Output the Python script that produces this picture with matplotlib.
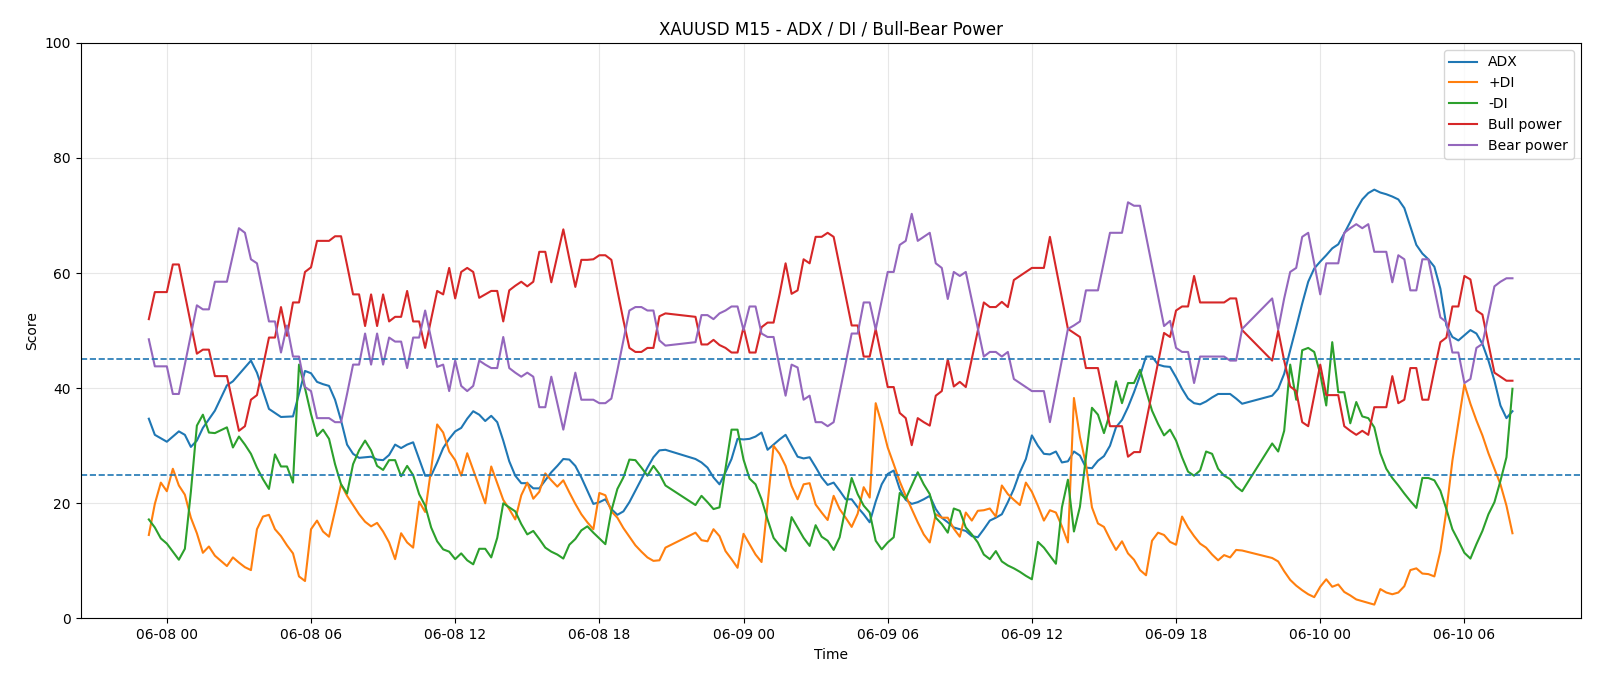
import numpy as np
import pandas as pd
import matplotlib
matplotlib.use("Agg")
import matplotlib.pyplot as plt
import matplotlib.dates as mdates

# hours after 2022-06-08 00:00, M15 bars (daily break 21:00-22:00 missing)
adx_h = [-0.75, -0.5, 0, 0.5, 0.75, 1.0, 1.25, 1.5, 2.0, 2.5, 2.75, 3.5, 3.75, 4.25, 4.75, 5.25, 5.75,
         6.0, 6.25, 6.5, 6.75, 7.0, 7.25, 7.5, 7.75, 8.0, 8.25, 8.5, 8.75, 9.0, 9.25, 9.5, 9.75, 10.0,
         10.25, 10.5, 10.75, 11.0, 11.25, 11.5, 11.75, 12.0, 12.25, 12.5, 12.75, 13.0, 13.25, 13.5, 13.75,
         14.0, 14.25, 14.5, 14.75, 15.0, 15.25, 15.5, 15.75, 16.0, 16.25, 16.5, 16.75, 17.0, 17.25, 17.5,
         17.75, 18.0, 18.25, 18.5, 18.75, 19.0, 19.25, 19.5, 19.75, 20.0, 20.25, 20.5, 20.75,
         22.0, 22.25, 22.5, 22.75, 23.0, 23.25, 23.5, 23.75, 24.0, 24.25, 24.5, 24.75, 25.0, 25.25, 25.5,
         25.75, 26.0, 26.25, 26.5, 26.75, 27.0, 27.25, 27.5, 27.75, 28.0, 28.25, 28.5, 28.75, 29.0, 29.25,
         29.5, 29.75, 30.0, 30.25, 30.5, 30.75, 31.0, 31.25, 31.5, 31.75, 32.0, 32.25, 32.5, 32.75, 33.0,
         33.25, 33.5, 33.75, 34.0, 34.25, 34.5, 34.75, 35.0, 35.25, 35.5, 35.75, 36.0, 36.25, 36.5, 36.75,
         37.0, 37.25, 37.5, 37.75, 38.0, 38.25, 38.5, 38.75, 39.0, 39.25, 39.5, 39.75, 40.0, 40.25, 40.5,
         40.75, 41.0, 41.25, 41.5, 41.75, 42.0, 42.25, 42.5, 42.75, 43.0, 43.25, 43.5, 43.75, 44.0, 44.25,
         44.5, 44.75, 46.0, 46.25, 46.5, 46.75, 47.0, 47.25, 47.5, 47.75, 48.0, 48.25, 48.5, 48.75, 49.0,
         49.25, 49.5, 49.75, 50.0, 50.25, 50.5, 50.75, 51.0, 51.25, 51.5, 51.75, 52.0, 52.25, 52.5, 52.75,
         53.0, 53.25, 53.5, 53.75, 54.0, 54.25, 54.5, 54.75, 55.0, 55.25, 55.5, 55.75, 56.0]
adx_v = [34.7, 31.9, 30.7, 32.5, 31.9, 29.8, 30.9, 33.1, 36.1, 40.5, 41.2, 44.8, 42.7, 36.4, 35.0, 35.1, 43.0,
         42.6, 41.1, 40.7, 40.4, 38.0, 34.4, 30.2, 28.6, 27.9, 28.0, 28.1, 27.6, 27.5, 28.4, 30.2, 29.6, 30.2,
         30.6, 27.7, 24.8, 24.8, 27.1, 29.6, 31.2, 32.5, 33.1, 34.7, 36.0, 35.4, 34.3, 35.2, 34.1,
         30.9, 27.3, 24.8, 23.5, 23.5, 22.6, 22.6, 24.0, 25.4, 26.5, 27.7, 27.6, 26.5, 24.5, 22.2,
         19.9, 20.2, 20.7, 19.0, 18.0, 18.6, 20.2, 22.2, 24.2, 26.2, 28.0, 29.2, 29.3,
         27.7, 27.1, 26.2, 24.5, 23.3, 25.4, 27.7, 31.2, 31.1, 31.2, 31.6, 32.3, 29.3, 30.2, 31.1,
         31.9, 30.0, 28.1, 27.8, 28.0, 26.3, 24.5, 23.2, 23.6, 22.2, 20.7, 20.7, 19.3, 18.1, 16.7,
         20.3, 23.3, 25.1, 25.7, 22.5, 20.6, 19.9, 20.2, 20.7, 21.3, 19.0, 17.5, 16.7, 15.8, 15.5,
         15.2, 14.3, 14.1, 15.5, 17.0, 17.5, 18.1, 20.2, 22.5, 25.4, 27.7, 31.8, 30.0, 28.6, 28.5,
         29.0, 27.1, 27.3, 29.0, 28.3, 26.2, 26.1, 27.4, 28.2, 30.0, 33.2, 34.5, 36.7, 39.3, 42.2,
         45.5, 45.5, 44.1, 43.8, 43.7, 41.9, 39.9, 38.2, 37.4, 37.2, 37.7, 38.4, 39.0, 39.0, 39.0,
         38.2, 37.3, 38.7, 39.9, 42.5, 46.6, 50.6, 54.7, 58.5, 60.8, 62.0, 63.1, 64.3, 65.0, 66.9,
         68.9, 71.0, 72.8, 73.9, 74.5, 74.0, 73.7, 73.3, 72.8, 71.3, 68.1, 64.9, 63.4, 62.4, 61.1,
         57.3, 50.9, 48.9, 48.3, 49.2, 50.1, 49.5, 47.7, 44.8, 41.3, 37.0, 34.8, 36.0]

pdi_h = [-0.75, -0.5, -0.25, 0, 0.25, 0.5, 0.75, 1.0, 1.25, 1.5, 1.75, 2.0, 2.25, 2.5, 2.75, 3.0, 3.25, 3.5,
         3.75, 4.0, 4.25, 4.5, 4.75, 5.0, 5.25, 5.5, 5.75, 6.0, 6.25, 6.5, 6.75, 7.0, 7.25, 7.5, 7.75, 8.0,
         8.25, 8.5, 8.75, 9.0, 9.25, 9.5, 9.75, 10.0, 10.25, 10.5, 10.75, 11.0, 11.25, 11.5, 11.75, 12.0,
         12.25, 12.5, 12.75, 13.0, 13.25, 13.5, 13.75, 14.0, 14.25, 14.5, 14.75, 15.0, 15.25, 15.5, 15.75,
         16.0, 16.25, 16.5, 16.75, 17.0, 17.25, 17.5, 17.75, 18.0, 18.25, 18.5, 18.75, 19.0, 19.25, 19.5,
         19.75, 20.0, 20.25, 20.5, 20.75, 22.0, 22.25, 22.5, 22.75, 23.0, 23.25, 23.5, 23.75, 24.0, 24.25,
         24.5, 24.75, 25.0, 25.25, 25.5, 25.75, 26.0, 26.25, 26.5, 26.75, 27.0, 27.25, 27.5, 27.75, 28.0,
         28.25, 28.5, 28.75, 29.0, 29.25, 29.5, 29.75, 30.0, 30.25, 30.5, 30.75, 31.0, 31.25, 31.5, 31.75,
         32.0, 32.25, 32.5, 32.75, 33.0, 33.25, 33.5, 33.75, 34.0, 34.25, 34.5, 34.75, 35.0, 35.25, 35.5,
         35.75, 36.0, 36.25, 36.5, 36.75, 37.0, 37.25, 37.5, 37.75, 38.0, 38.25, 38.5, 38.75, 39.0, 39.25,
         39.5, 39.75, 40.0, 40.25, 40.5, 40.75, 41.0, 41.25, 41.5, 41.75, 42.0, 42.25, 42.5, 42.75, 43.0,
         43.25, 43.5, 43.75, 44.0, 44.25, 44.5, 44.75, 46.0, 46.25, 46.5, 46.75, 47.0, 47.25, 47.5, 47.75,
         48.0, 48.25, 48.5, 48.75, 49.0, 49.25, 49.5, 49.75, 50.0, 50.25, 50.5, 50.75, 51.0, 51.25, 51.5,
         51.75, 52.0, 52.25, 52.5, 52.75, 53.0, 53.25, 53.5, 53.75, 54.0, 54.25, 54.5, 54.75, 55.0, 55.25,
         55.5, 55.75, 56.0]
pdi_v = [14.5, 19.9, 23.6, 22.1, 26.0, 23.1, 21.5, 17.5, 14.8, 11.4, 12.5, 10.9, 10.0, 9.1, 10.6, 9.7, 8.9, 8.4,
         15.5, 17.7, 18.0, 15.5, 14.3, 12.7, 11.3, 7.3, 6.5, 15.5, 17.0, 15.1, 14.2, 18.7, 23.3, 21.3, 19.7, 18.1,
         16.8, 16.0, 16.6, 15.1, 13.2, 10.3, 14.8, 13.2, 12.3, 20.3, 18.5, 26.0, 33.7, 32.3, 29.0, 27.5,
         24.8, 28.7, 25.8, 22.9, 20.0, 26.4, 23.5, 20.6, 19.0, 17.2, 21.4, 23.6, 20.8, 22.0, 25.2,
         24.0, 22.9, 24.0, 21.9, 19.9, 18.1, 16.7, 15.5, 21.8, 21.4, 18.6, 17.5, 15.7, 14.2, 12.7,
         11.6, 10.6, 10.0, 10.1, 12.3, 14.9, 13.6, 13.4, 15.5, 14.3, 11.7, 10.3, 8.8, 14.7, 12.9,
         11.1, 9.8, 19.9, 30.0, 28.6, 26.5, 23.0, 20.7, 23.3, 23.5, 19.8, 18.4, 17.1, 21.3, 19.0,
         17.5, 15.9, 18.2, 22.8, 21.0, 37.4, 33.8, 29.7, 26.8, 23.8, 21.3, 19.0, 16.7, 14.6, 13.2,
         18.1, 17.5, 17.5, 15.6, 14.2, 18.4, 17.0, 18.7, 18.8, 19.1, 17.7, 23.1, 21.6, 20.6, 19.7,
         23.6, 22.0, 19.6, 17.0, 18.8, 18.4, 16.0, 13.2, 38.3, 31.5, 26.8, 19.3, 16.5, 15.9, 13.8,
         11.9, 13.4, 11.3, 10.2, 8.4, 7.5, 13.5, 14.9, 14.5, 13.3, 12.8, 17.7, 15.8, 14.3, 13.0,
         12.3, 11.1, 10.1, 11.0, 10.6, 11.9, 11.8, 10.5, 9.9, 8.2, 6.7, 5.7, 4.9, 4.2, 3.7,
         5.5, 6.8, 5.5, 5.9, 4.6, 4.0, 3.3, 3.0, 2.7, 2.4, 5.1, 4.5, 4.2, 4.5, 5.6,
         8.4, 8.7, 7.8, 7.7, 7.3, 11.7, 18.7, 27.4, 34.1, 40.7, 37.3, 34.4, 31.8, 28.7, 26.0,
         23.3, 19.6, 14.8]

mdi_h = pdi_h
mdi_v = [17.2, 15.8, 13.9, 13.0, 11.6, 10.2, 12.1, 22.0, 33.5, 35.4, 32.3, 32.2, 32.7, 33.2, 29.7, 31.6, 30.2, 28.6,
         26.2, 24.2, 22.5, 28.5, 26.4, 26.4, 23.6, 44.1, 40.0, 35.5, 31.7, 32.8, 31.2, 26.8, 23.3, 21.7, 26.8, 29.2,
         30.9, 29.2, 26.5, 25.8, 27.5, 27.5, 24.7, 26.5, 24.9, 21.6, 19.6, 15.8, 13.4, 12.0, 11.6, 10.3,
         11.3, 10.1, 9.4, 12.1, 12.1, 10.6, 14.0, 20.0, 19.3, 18.6, 16.4, 14.6, 15.2, 13.8, 12.3,
         11.6, 11.1, 10.4, 12.8, 13.8, 15.3, 16.0, 14.9, 13.9, 12.9, 18.7, 22.5, 24.5, 27.6, 27.5,
         26.2, 24.8, 26.5, 25.1, 23.1, 19.7, 21.3, 20.2, 19.0, 19.3, 26.0, 32.8, 32.8, 27.6, 24.3,
         23.3, 20.7, 17.2, 14.0, 12.7, 11.7, 17.6, 15.8, 14.0, 12.6, 16.2, 14.2, 13.5, 11.9, 14.1,
         19.3, 24.4, 21.6, 19.6, 18.4, 13.5, 12.0, 13.2, 14.1, 21.8, 20.8, 23.1, 25.4, 23.3, 21.6,
         17.5, 16.4, 14.9, 19.1, 18.7, 15.8, 14.6, 13.2, 11.1, 10.3, 11.7, 9.9, 9.2, 8.7, 8.1,
         7.4, 6.8, 13.3, 12.3, 10.9, 9.5, 19.3, 24.1, 15.1, 19.4, 28.0, 36.6, 35.4, 32.2, 35.7,
         41.2, 37.4, 40.9, 40.9, 43.2, 39.6, 36.1, 33.8, 31.8, 32.8, 30.9, 28.0, 25.5, 24.8, 25.7,
         29.0, 28.6, 26.0, 24.8, 24.2, 22.9, 22.1, 30.4, 29.0, 32.6, 44.1, 38.0, 46.6, 47.0, 46.3,
         42.5, 37.0, 48.0, 39.3, 39.3, 33.9, 37.6, 35.1, 34.8, 33.2, 28.7, 26.0, 24.4, 23.1, 21.7,
         20.4, 19.2, 24.4, 24.4, 24.0, 22.2, 19.0, 15.5, 13.5, 11.4, 10.4, 12.9, 15.2, 18.1, 20.2,
         23.9, 28.0, 39.9]

bull_h = [-0.75, -0.5, 0, 0.25, 0.5, 1.25, 1.5, 1.75, 2.0, 2.5, 3.0, 3.25, 3.5, 3.75, 4.25, 4.5, 4.75, 5.0,
          5.25, 5.5, 5.75, 6.0, 6.25, 6.75, 7.0, 7.25, 7.5, 7.75, 8.0, 8.25, 8.5, 8.75, 9.0, 9.25, 9.5, 9.75,
          10.0, 10.25, 10.5, 10.75, 11.0, 11.25, 11.5, 11.75, 12.0, 12.25, 12.5, 12.75, 13.0, 13.25, 13.5,
          13.75, 14.0, 14.25, 14.5, 14.75, 15.0, 15.25, 15.5, 15.75, 16.0, 16.5, 16.75, 17.0, 17.25, 17.5,
          17.75, 18.0, 18.25, 18.5, 18.75, 19.0, 19.25, 19.5, 19.75, 20.0, 20.25, 20.5, 20.75, 22.0, 22.25,
          22.5, 22.75, 23.0, 23.25, 23.5, 23.75, 24.0, 24.25, 24.5, 24.75, 25.0, 25.25, 25.5, 25.75, 26.0,
          26.25, 26.5, 26.75, 27.0, 27.25, 27.5, 27.75, 28.5, 28.75, 29.0, 29.25, 29.5, 30.0, 30.25, 30.5,
          30.75, 31.0, 31.25, 31.5, 31.75, 32.0, 32.25, 32.5, 32.75, 33.0, 33.25, 34.0, 34.25, 34.5, 34.75,
          35.0, 35.25, 35.5, 35.75, 36.0, 36.5, 36.75, 37.5, 37.75, 38.0, 38.25, 38.75, 39.0, 39.25, 39.75,
          40.0, 40.25, 40.5, 41.5, 41.75, 42.0, 42.25, 42.5, 42.75, 43.0, 44.0, 44.25, 44.5, 44.75, 46.0,
          46.25, 46.5, 46.75, 47.0, 47.25, 47.5, 47.75, 48.0, 48.25, 48.75, 49.0, 49.25, 49.5, 49.75, 50.0,
          50.25, 50.75, 51.0, 51.25, 51.5, 51.75, 52.0, 52.25, 52.5, 52.75, 53.0, 53.25, 53.5, 53.75, 54.0,
          54.25, 54.5, 54.75, 55.0, 55.25, 55.5, 55.75, 56.0]
bull_v = [52.0, 56.7, 56.7, 61.5, 61.5, 46.0, 46.7, 46.7, 42.1, 42.1, 32.6, 33.4, 38.0, 38.8, 48.8, 48.8, 54.1, 49.1,
          54.9, 54.9, 60.2, 61.0, 65.6, 65.6, 66.4, 66.4, 61.4, 56.3, 56.3, 50.8, 56.3, 50.8, 56.3, 51.6, 52.4, 52.4,
          56.9, 51.6, 51.6, 47.0, 52.0, 56.9, 56.3, 60.9, 55.6, 60.2, 60.9, 60.2, 55.7, 56.3, 56.9,
          56.9, 51.6, 57.0, 57.8, 58.5, 57.7, 58.5, 63.7, 63.7, 58.4, 67.6, 62.5, 57.6, 62.3, 62.3,
          62.4, 63.1, 63.1, 62.3, 57.0, 51.8, 47.0, 46.3, 46.3, 47.0, 47.0, 52.5, 53.0, 52.4, 47.6,
          47.6, 48.4, 47.5, 47.0, 46.2, 46.2, 50.6, 46.2, 46.2, 50.6, 51.4, 51.4, 56.3, 61.7, 56.4,
          57.0, 62.4, 61.7, 66.3, 66.3, 67.0, 66.3, 50.9, 50.9, 45.5, 45.5, 50.3, 40.2, 40.2, 35.7,
          34.8, 30.1, 34.8, 34.1, 33.5, 38.7, 39.5, 45.0, 40.3, 41.1, 40.2, 54.9, 54.1, 54.1, 55.0,
          54.1, 58.8, 59.5, 60.2, 60.9, 60.9, 66.3, 50.3, 49.6, 48.9, 43.5, 43.5, 38.4, 33.4, 33.4,
          28.1, 28.9, 28.9, 49.6, 48.9, 53.5, 54.2, 54.2, 59.5, 54.9, 54.9, 55.6, 55.6, 50.1, 44.8,
          50.0, 44.8, 40.3, 39.5, 34.1, 33.4, 38.7, 44.1, 38.8, 38.8, 33.4, 32.6, 31.9, 32.6, 31.9,
          36.7, 36.7, 42.1, 37.4, 38.0, 43.5, 43.5, 38.0, 38.0, 43.1, 48.0, 48.8, 54.2, 54.2, 59.5,
          58.9, 53.5, 52.8, 47.7, 42.7, 42.0, 41.3, 41.3]

bear_h = bull_h
bear_v = [48.5, 43.8, 43.8, 39.0, 39.0, 54.4, 53.7, 53.7, 58.5, 58.5, 67.8, 67.0, 62.4, 61.7, 51.6, 51.6, 46.2, 50.9,
          45.5, 45.5, 40.2, 39.5, 34.8, 34.8, 34.1, 34.1, 39.0, 44.1, 44.1, 49.5, 44.1, 49.5, 44.1, 48.8, 48.1, 48.1,
          43.5, 48.8, 48.8, 53.5, 48.6, 43.7, 44.1, 39.5, 44.8, 40.4, 39.5, 40.4, 44.8, 44.1, 43.5,
          43.5, 48.9, 43.5, 42.7, 42.0, 42.7, 42.0, 36.7, 36.7, 42.0, 32.8, 37.9, 42.7, 38.0, 38.0,
          38.0, 37.4, 37.4, 38.2, 43.1, 48.3, 53.5, 54.1, 54.1, 53.5, 53.5, 48.3, 47.4, 48.0, 52.7,
          52.7, 52.0, 53.0, 53.5, 54.2, 54.2, 50.1, 54.2, 54.2, 49.5, 48.9, 48.9, 43.7, 38.7, 44.1,
          43.6, 38.0, 38.7, 34.1, 34.1, 33.4, 34.1, 49.5, 49.5, 54.9, 54.9, 50.2, 60.2, 60.2, 64.9,
          65.6, 70.3, 65.6, 66.3, 67.0, 61.7, 60.9, 55.5, 60.2, 59.5, 60.2, 45.5, 46.3, 46.3, 45.5,
          46.3, 41.6, 40.9, 40.2, 39.5, 39.5, 34.1, 50.3, 50.9, 51.6, 57.0, 57.0, 62.0, 67.0, 67.0,
          72.3, 71.7, 71.7, 50.8, 51.7, 47.0, 46.3, 46.3, 40.9, 45.5, 45.5, 44.8, 44.8, 50.3, 55.6,
          50.2, 55.6, 60.2, 60.9, 66.3, 67.0, 61.7, 56.3, 61.7, 61.7, 67.0, 67.8, 68.5, 67.8, 68.5,
          63.7, 63.7, 58.4, 63.1, 62.4, 57.0, 57.0, 62.4, 62.4, 57.3, 52.3, 51.5, 46.2, 46.2, 40.9,
          41.6, 47.0, 47.7, 52.7, 57.7, 58.5, 59.1, 59.1]

base = pd.Timestamp("2022-06-08 00:00")


def to_time(hours):
    return base + pd.to_timedelta(np.array(hours), unit="h")


fig, ax = plt.subplots(figsize=(16, 6.86), dpi=100)
ax.plot(to_time(adx_h), adx_v, label="ADX")
ax.plot(to_time(pdi_h), pdi_v, label="+DI")
ax.plot(to_time(mdi_h), mdi_v, label="-DI")
ax.plot(to_time(bull_h), bull_v, label="Bull power")
ax.plot(to_time(bear_h), bear_v, label="Bear power")

ax.axhline(25, linestyle="--", linewidth=1.2, color="tab:blue")
ax.axhline(45, linestyle="--", linewidth=1.2, color="tab:blue")

ax.set_ylim(0, 100)
ax.set_title("XAUUSD M15 - ADX / DI / Bull-Bear Power")
ax.set_xlabel("Time")
ax.set_ylabel("Score")
ax.grid(True, alpha=0.3)
ax.legend(loc="upper right")
ax.xaxis.set_major_locator(mdates.HourLocator(byhour=[0, 6, 12, 18]))
ax.xaxis.set_major_formatter(mdates.DateFormatter("%m-%d %H"))

fig.subplots_adjust(left=0.0504, right=0.9879, top=0.9375, bottom=0.0985)
fig.savefig("out.png", dpi=100)
